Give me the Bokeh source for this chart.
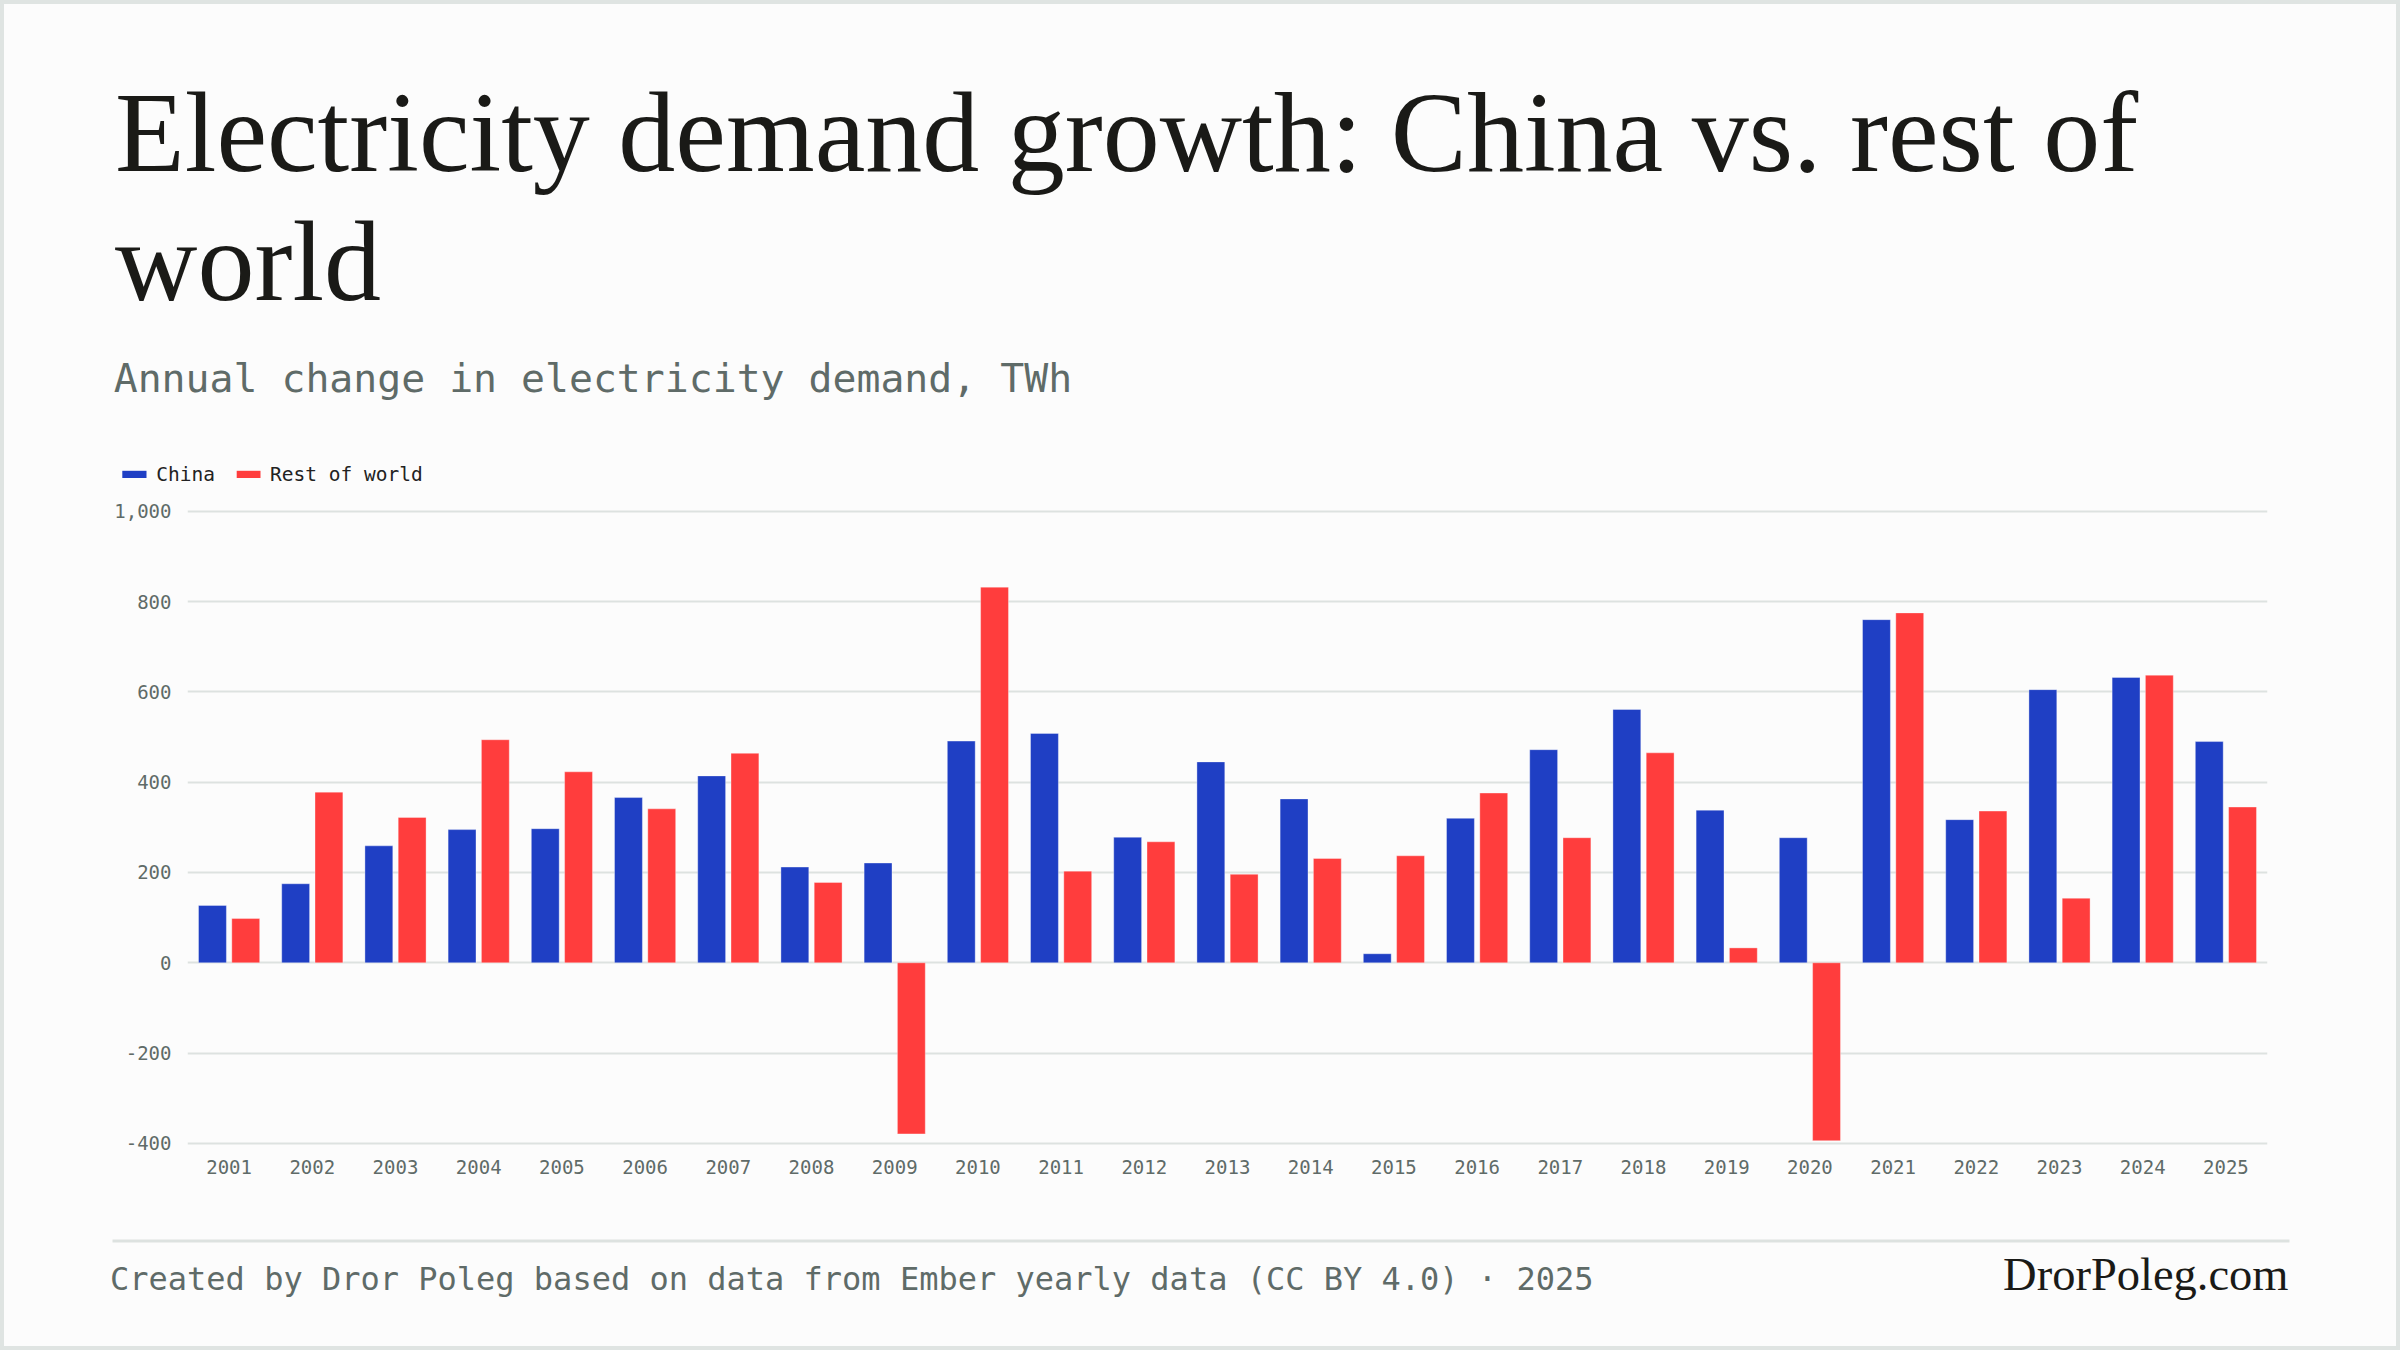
from bokeh.plotting import figure
from bokeh.models import (Range1d, FixedTicker, NumeralTickFormatter,
                          ColumnDataSource, GlobalInlineStyleSheet)
from bokeh.core.properties import value
from bokeh.embed import file_html
from bokeh.resources import INLINE

# ---- data ----
years = ["2001", "2002", "2003", "2004", "2005", "2006", "2007", "2008", "2009", "2010",
         "2011", "2012", "2013", "2014", "2015", "2016", "2017", "2018", "2019", "2020",
         "2021", "2022", "2023", "2024", "2025"]
china = [127, 175, 259, 295, 297, 366, 414, 212, 221, 491, 508, 278, 445, 363, 20,
         320, 472, 561, 338, 277, 760, 317, 605, 632, 490]
rest_of_world = [98, 378, 322, 494, 423, 341, 464, 178, -379, 832, 203, 268, 196, 231, 237,
                 376, 277, 465, 33, -394, 775, 336, 143, 637, 345]
y_ticks = [-400, -200, 0, 200, 400, 600, 800, 1000]
series_names = ["China", "Rest of world"]

title_line1 = "Electricity demand growth: China vs. rest of"
title_line2 = "world"
subtitle = "Annual change in electricity demand, TWh"
footer = "Created by Dror Poleg based on data from Ember yearly data (CC BY 4.0) \u00b7 2025"
brand = "DrorPoleg.com"

BLUE = "#1F3FC4"
RED = "#FF3D3D"
GRAY = "#5F6B68"
DARK = "#1A1A17"
GRID = "#DDE2E0"
BG = "#FCFCFC"
MONO = "DejaVu Sans Mono"
SERIF = "Liberation Serif"

W, H = 2392, 1342
ML, MR, MT, MB = 183, 129, 505, 200
DODGE, BAR_W = 0.2, 0.335

# one unit per year on a numeric axis; the year names label the centres
centres = [i + 0.5 for i in range(len(years))]
source = ColumnDataSource(dict(
    centre=centres,
    x_china=[c - DODGE for c in centres],
    x_rest=[c + DODGE for c in centres],
    china=china, rest=rest_of_world))

p = figure(width=W, height=H,
           x_range=Range1d(0, len(years)),
           y_range=Range1d(-406.9, 1004),
           output_backend="svg", toolbar_location=None,
           min_border_left=ML, min_border_right=MR,
           min_border_top=MT, min_border_bottom=MB,
           background_fill_color=BG, border_fill_color=BG)
p.outline_line_color = None

# pixel-like ranges for page furniture (title, legend, footer)
p.extra_x_ranges = {"px": Range1d(ML, W - MR)}
p.extra_y_ranges = {"py": Range1d(H - MB, MT)}

p.vbar(x="x_china", top="china", bottom=0, width=BAR_W, source=source,
       fill_color=BLUE, line_color="#FFFFFF", line_alpha=0.35, line_width=1)
p.vbar(x="x_rest", top="rest", bottom=0, width=BAR_W, source=source,
       fill_color=RED, line_color="#FFFFFF", line_alpha=0.35, line_width=1)

p.xgrid.grid_line_color = None
p.ygrid.grid_line_color = GRID
p.ygrid.grid_line_width = 2
p.yaxis.ticker = FixedTicker(ticks=y_ticks)
p.yaxis.formatter = NumeralTickFormatter(format="0,0")
p.xaxis.ticker = FixedTicker(ticks=centres)
p.xaxis.major_label_overrides = {c: y for c, y in zip(centres, years)}
for ax in (p.xaxis[0], p.yaxis[0]):
    ax.axis_line_color = None
    ax.major_tick_line_color = None
    ax.minor_tick_line_color = None
    ax.major_tick_out = 0
    ax.major_tick_in = 0
    ax.major_label_text_font = MONO
    ax.major_label_text_font_size = "19px"
    ax.major_label_text_color = GRAY
p.yaxis.major_label_standoff = 16
p.xaxis.major_label_standoff = 13


def put_text(x, y, text, font, size, color, align="left", baseline="alphabetic"):
    p.text(x=[x], y=[y], text=[text], text_font=value(font), text_font_size=value(size),
           text_color=color, text_align=align, text_baseline=baseline,
           x_range_name="px", y_range_name="py", level="annotation")


# header
put_text(110.6, 127.7, title_line1, SERIF, "114px", DARK)
put_text(110.6, 256.7, title_line2, SERIF, "114px", DARK)
put_text(109.2, 373.7, subtitle, MONO, "39.8px", GRAY)

# legend
p.quad(left=[117.8, 232.2], right=[142, 256], top=[466.3, 466.3], bottom=[473.5, 473.5],
       fill_color=[BLUE, RED], line_color=None,
       x_range_name="px", y_range_name="py", level="annotation")
put_text(151.7, 469.5, series_names[0], MONO, "19.5px", "#222222")
put_text(265.6, 469.5, series_names[1], MONO, "19.5px", "#222222")

# footer
p.quad(left=[108], right=[2285], top=[1235], bottom=[1238], fill_color=GRID, line_color=None,
       x_range_name="px", y_range_name="py", level="annotation")
put_text(105.5, 1274.5, footer, MONO, "32px", GRAY)
put_text(2284, 1269.5, brand, SERIF, "46.5px", DARK, align="right")

p.stylesheets = [GlobalInlineStyleSheet(css=(
    "html{background:#DFE4E2 !important; margin:0 !important; padding:0 !important;}"
    "body{background:#FCFCFC !important; margin:0 !important; padding:0 !important;"
    " border:4px solid #DFE4E2 !important; box-sizing:border-box;}"))]

open("out.html", "w").write(file_html(p, INLINE))
